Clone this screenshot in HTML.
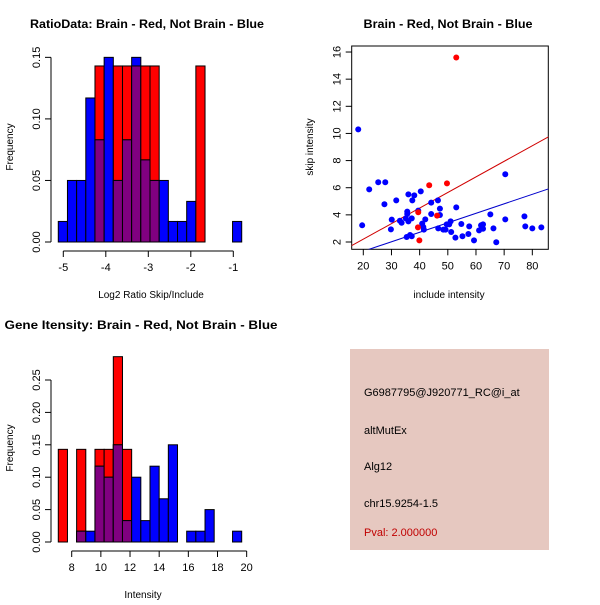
<!DOCTYPE html>
<html><head><meta charset="utf-8"><style>
body{margin:0;background:#fff;}
svg text{font-family:"Liberation Sans",sans-serif;}
</style></head><body>
<svg id="c" width="600" height="600" xmlns="http://www.w3.org/2000/svg">
<rect width="600" height="600" fill="#fff"/>
<rect x="350" y="349" width="199" height="201" fill="#e6c8c0"/>
<text x="364" y="396" font-size="11">G6987795@J920771_RC@i_at</text>
<text x="364" y="434" font-size="11">altMutEx</text>
<text x="364" y="470" font-size="11">Alg12</text>
<text x="364" y="507" font-size="11">chr15.9254-1.5</text>
<text x="364" y="536" font-size="11" fill="#c00000">Pval: 2.000000</text>
</svg>
<script>
// ---- data ----
const ratioRed = [0,0,0,0,0.143,0,0.143,0.143,0.143,0.143,0.143,0,0,0,0,0.143,0,0,0,0];
const ratioBlue = [0.0167,0.05,0.05,0.117,0.083,0.15,0.05,0.083,0.15,0.0667,0.05,0.05,0.0167,0.0167,0.033,0,0,0,0,0.0167];
const ratioTicksX = [-5,-4,-3,-2,-1];
const ratioTicksY = [0,0.05,0.10,0.15];
const ratioTickLabelsY = ["0.00","0.05","0.10","0.15"];
const intRed = [0.143,0,0.143,0,0.143,0.143,0.286,0.143,0,0,0,0,0,0,0,0,0,0,0,0];
const intBlue = [0,0,0.0167,0.0167,0.117,0.1,0.15,0.033,0.1,0.033,0.117,0.0667,0.15,0,0.0167,0.0167,0.05,0,0,0.0167];
const intTicksX = [8,10,12,14,16,18,20];
const intTicksY = [0,0.05,0.10,0.15,0.20,0.25];
const intTickLabelsY = ["0.00","0.05","0.10","0.15","0.20","0.25"];
const blueX = [18.2,19.6,22.1,25.3,27.8,27.5,30.1,29.8,31.7,33.0,33.6,35.1,35.6,35.6,36.0,36.0,35.4,36.6,37.2,37.2,37.4,38.1,39.5,40.4,40.9,41.3,41.5,42.0,44.1,44.1,46.5,47.2,47.2,46.6,48.4,49.2,49.6,50.5,51.0,51.2,53.0,52.7,54.8,55.2,57.3,57.6,59.3,61.1,61.8,62.5,62.5,65.1,66.2,67.2,70.4,70.4,77.2,77.5,80.0,83.2];
const blueY = [10.3,3.23,5.88,6.4,6.4,4.78,3.65,2.93,5.07,3.57,3.42,3.74,4.24,4.06,5.51,3.52,2.37,2.52,2.42,3.74,5.07,5.44,4.31,5.73,3.35,3.11,2.91,3.67,4.9,4.06,5.07,4.46,3.99,3.0,2.91,2.91,3.3,3.3,3.52,2.74,4.55,2.32,3.33,2.42,2.59,3.15,2.12,2.86,3.23,3.3,2.98,4.04,3.0,1.98,6.99,3.67,3.89,3.15,3.0,3.08];
const redX = [53.0,43.4,49.7,39.5,46.2,39.4,39.9];
const redY = [15.6,6.18,6.32,4.19,3.94,3.08,2.12];
const redFit = [-0.09,0.1148];
const blueFit = [-0.08,0.0699];
const scatTicksX = [20,30,40,50,60,70,80];
const scatTicksY = [2,4,6,8,10,12,14,16];

const svg = document.getElementById('c');
const NS = 'http://www.w3.org/2000/svg';
function mk(tag, attrs, parent){const e=document.createElementNS(NS,tag);for(const k in attrs)e.setAttribute(k,attrs[k]);(parent||svg).appendChild(e);return e;}
function txt(x,y,s,size,extra){const t=mk('text',Object.assign({x:x,y:y,'font-size':size,'text-anchor':'middle'},extra||{}));t.textContent=s;return t;}

function hist(o){
  const g=mk('g',{});
  
  
  const sx=v=>o.x0+(v-o.v0)*o.kx, sy=v=>o.y0-v*o.ky;
  const n=o.red.length;
  for(let i=0;i<n;i++){
    const a=o.start+i*o.bw, xl=sx(a), xr=sx(a+o.bw);
    const r=o.red[i], b=o.blue[i];
    if(r>0){const e=mk('rect',{x:xl,y:sy(r),width:xr-xl,height:sy(0)-sy(r),fill:'#ff0000',stroke:'#000','stroke-width':1},g);
      
      }
    if(b>0){const e=mk('rect',{x:xl,y:sy(b),width:xr-xl,height:sy(0)-sy(b),fill:'#0000ff',stroke:'#000','stroke-width':1},g);
      
      }
    const m=Math.min(r,b);
    if(m>0){const e=mk('rect',{x:xl,y:sy(m),width:xr-xl,height:sy(0)-sy(m),fill:'#800080',stroke:'#000','stroke-width':1},g);
      
      }
  }
  const xa=o.y0+9;
  mk('line',{x1:sx(o.tx[0]),x2:sx(o.tx[o.tx.length-1]),y1:xa,y2:xa,stroke:'#000'},g);
  o.tx.forEach(v=>{mk('line',{x1:sx(v),x2:sx(v),y1:xa,y2:xa+6,stroke:'#000'},g);txt(sx(v),xa+20,String(v),11);});
  const ya=o.x0y;
  mk('line',{x1:ya,x2:ya,y1:sy(o.ty[0]),y2:sy(o.ty[o.ty.length-1]),stroke:'#000'},g);
  o.ty.forEach((v,i)=>{mk('line',{x1:ya,x2:ya-6,y1:sy(v),y2:sy(v),stroke:'#000'},g);
    txt(ya-11,sy(v),o.tl[i],11,{transform:`rotate(-90 ${ya-11} ${sy(v)})`});});
}
hist({name:'ratio-histogram',red:ratioRed,blue:ratioBlue,start:-5.118,bw:0.2158,x0:63.3,v0:-5,kx:42.5,y0:242,ky:1231,tx:ratioTicksX,ty:ratioTicksY,tl:ratioTickLabelsY,x0y:51});
hist({name:'intensity-histogram',red:intRed,blue:intBlue,start:7.08,bw:0.629,x0:71.7,v0:8,kx:14.58,y0:542,ky:648,tx:intTicksX,ty:intTicksY,tl:intTickLabelsY,x0y:51});

txt(147,28,'RatioData: Brain - Red, Not Brain - Blue',12,{'font-weight':'bold',textLength:234,lengthAdjust:'spacingAndGlyphs'});
txt(151,298,'Log2 Ratio Skip/Include',10);
txt(13,147,'Frequency',10,{transform:'rotate(-90 13 147)'});
txt(141,329,'Gene Itensity: Brain - Red, Not Brain - Blue',12,{'font-weight':'bold',textLength:273,lengthAdjust:'spacingAndGlyphs'});
txt(143,598,'Intensity',10);
txt(13,448,'Frequency',10,{transform:'rotate(-90 13 448)'});
txt(448,28,'Brain - Red, Not Brain - Blue',12,{'font-weight':'bold',textLength:169,lengthAdjust:'spacingAndGlyphs'});
txt(449,298,'include intensity',10);
txt(313,147,'skip intensity',10,{transform:'rotate(-90 313 147)'});

const SX=v=>363.3+(v-20)*2.817, SY=v=>242-(v-2)*13.57;
const box={l:351.7,r:548.3,t:46,b:249.3};
const sg=mk('g',{});


mk('clipPath',{id:'clp'},sg);
mk('rect',{x:box.l,y:box.t,width:box.r-box.l,height:box.b-box.t},document.getElementById('clp'));
mk('rect',{x:box.l,y:box.t,width:box.r-box.l,height:box.b-box.t,fill:'none',stroke:'#000'},sg);
scatTicksX.forEach(v=>{mk('line',{x1:SX(v),x2:SX(v),y1:box.b,y2:box.b+6,stroke:'#000'},sg);txt(SX(v),box.b+20,String(v),11);});
scatTicksY.forEach(v=>{mk('line',{x1:box.l,x2:box.l-6,y1:SY(v),y2:SY(v),stroke:'#000'},sg);txt(box.l-11,SY(v),String(v),11,{transform:`rotate(-90 ${box.l-11} ${SY(v)})`});});
const xmin=15,xmax=90;
[[redFit,'#d00000','red-fit-line'],[blueFit,'#0000cc','blue-fit-line']].forEach(([f,c,n])=>{
  const l=mk('line',{x1:SX(xmin),y1:SY(f[0]+f[1]*xmin),x2:SX(xmax),y2:SY(f[0]+f[1]*xmax),stroke:c,'stroke-width':1,'clip-path':'url(#clp)'},sg);
  
  
});
blueX.forEach((x,i)=>{const p=mk('circle',{cx:SX(x),cy:SY(blueY[i]),r:3,fill:'#0000ff'},sg);
  
  });
redX.forEach((x,i)=>{const p=mk('circle',{cx:SX(x),cy:SY(redY[i]),r:3,fill:'#ff0000'},sg);
  
  });
</script>
</body></html>
